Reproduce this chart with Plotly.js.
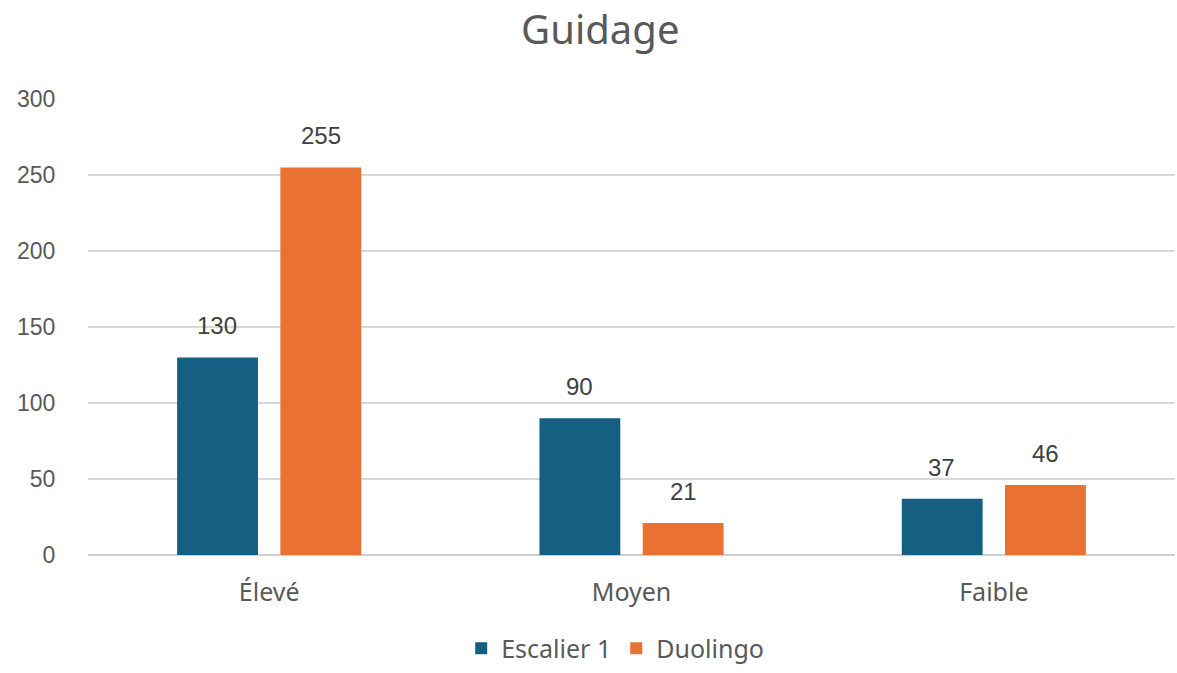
<!DOCTYPE html>
<html><head><meta charset="utf-8">
<script src="https://cdn.plot.ly/plotly-3.0.1.min.js"></script>
<style>html,body{margin:0;padding:0;background:#fff}#chart{width:1177px;height:673px}</style>
</head><body><div id="chart"></div>
<script>
const categories = ["Élevé", "Moyen", "Faible"];
const escalier = [130, 90, 37];
const duolingo = [255, 21, 46];
const seriesNames = ["Escalier 1", "Duolingo"];
const yTicks = [0, 50, 100, 150, 200, 250, 300];

const colors = ["#156082", "#E97132"];
const labelFont = {family: "Liberation Sans, Arial, sans-serif", size: 24, color: "#404040"};

const traces = [escalier, duolingo].map((vals, i) => ({
  type: "bar", x: categories, y: vals, name: seriesNames[i],
  marker: {color: colors[i]}, hoverinfo: "skip"
}));

const annotations = [];
[escalier, duolingo].forEach((vals, i) => {
  vals.forEach((v, j) => {
    annotations.push({x: categories[j], y: v, text: String(v), showarrow: false,
      xref: "x", yref: "y", yanchor: "bottom", yshift: 16, xshift: i === 0 ? -52 : 52,
      font: labelFont});
  });
});

const layout = {
  width: 1177, height: 673,
  margin: {l: 88, r: 2, t: 99, b: 118, autoexpand: false},
  paper_bgcolor: "#fff", plot_bgcolor: "#fff",
  title: {text: "Guidage", x: 0.51, xanchor: "center", y: 0.955, yanchor: "middle",
    font: {family: "Noto Sans, sans-serif", size: 40, color: "#595959"}},
  barmode: "group", bargap: 0.43, bargroupgap: 0.217,
  xaxis: {type: "category", showgrid: false, zeroline: false, showline: false, automargin: false,
    ticks: "outside", ticklen: 15, tickcolor: "rgba(0,0,0,0)",
    tickfont: {family: "Noto Sans, sans-serif", size: 25, color: "#595959"}},
  yaxis: {range: [0, 300], tickvals: yTicks, showgrid: true, gridcolor: "#d9d9d9", gridwidth: 1.5,
    zeroline: true, zerolinecolor: "#d0d0d0", zerolinewidth: 1.5, showline: false, automargin: false,
    ticks: "outside", ticklen: 27, tickcolor: "rgba(0,0,0,0)",
    tickfont: {family: "Liberation Sans, Arial, sans-serif", size: 23, color: "#595959"}},
  legend: {orientation: "h", x: 0.485, xanchor: "center", y: -0.205, yanchor: "middle",
    font: {family: "Noto Sans, sans-serif", size: 25, color: "#595959"}, itemwidth: 30},
  annotations: annotations,
  showlegend: true
};
Plotly.newPlot("chart", traces, layout, {displayModeBar: false, staticPlot: true});
</script></body></html>
